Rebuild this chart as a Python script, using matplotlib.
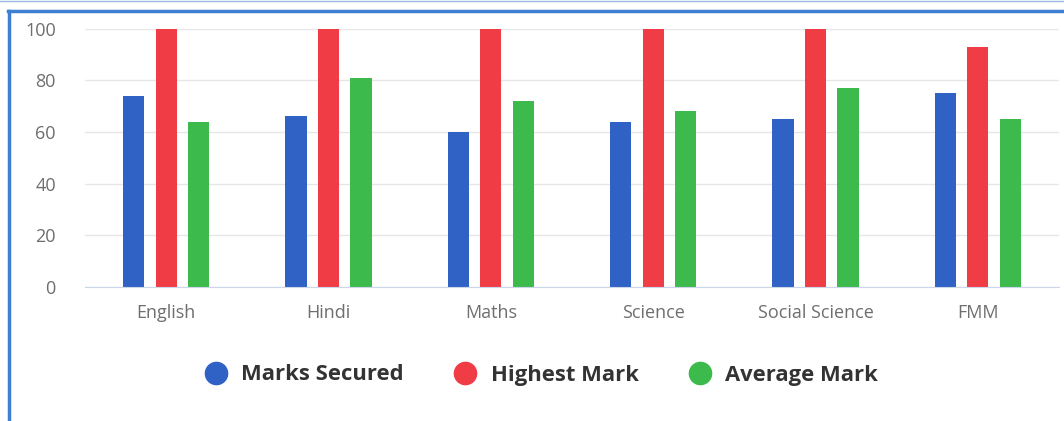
import numpy as np
import matplotlib
matplotlib.use("Agg")
import matplotlib.pyplot as plt
from matplotlib.lines import Line2D

# podaci
subjects = ["English", "Hindi", "Maths", "Science", "Social Science", "FMM"]
marks_secured = [74, 66, 60, 64, 65, 75]
highest_mark = [100, 100, 100, 100, 100, 93]
average_mark = [64, 81, 72, 68, 77, 65]
series_names = ["Marks Secured", "Highest Mark", "Average Mark"]
y_ticks = [0, 20, 40, 60, 80, 100]

colors = ["#2f62c4", "#f03c45", "#3dba4c"]

plt.rcParams['font.family'] = ['Open Sans', 'DejaVu Sans']

fig = plt.figure(figsize=(10.64, 4.21), dpi=100)
ax = fig.add_axes([85 / 1064, 1 - 287 / 421, 974 / 1064, (287 - 28.5) / 421])

x = np.arange(len(subjects))
width = 0.13
offset = 0.2
for i, (vals, name) in enumerate(zip([marks_secured, highest_mark, average_mark], series_names)):
    ax.bar(x + (i - 1) * offset, vals, width, color=colors[i], label=name, zorder=3, clip_on=False)

ax.set_xlim(-0.5, len(subjects) - 0.5)
ax.set_ylim(0, 100)
ax.set_yticks(y_ticks)
ax.set_xticks(x)
ax.set_xticklabels(subjects)
ax.tick_params(axis='y', length=0, pad=21, labelsize=13, labelcolor="#6e6e6e")
ax.tick_params(axis='x', length=0, pad=12, labelsize=13, labelcolor="#6e6e6e")
ax.grid(axis='y', color="#e6e6e6", linewidth=1, zorder=0)
for s in ["top", "right", "left"]:
    ax.spines[s].set_visible(False)
ax.spines["bottom"].set_color("#ccd6eb")
ax.spines["bottom"].set_zorder(4)

# legenda
handles = [Line2D([0], [0], marker='o', linestyle='', markersize=16, markerfacecolor=c, markeredgecolor=c)
           for c in colors]
fig.legend(handles, series_names, loc='center', bbox_to_anchor=(541 / 1064, 1 - 375 / 421),
           ncol=3, frameon=False, handlelength=1.1, handletextpad=0.6, columnspacing=2.25,
           prop={'size': 15.8, 'weight': 'bold'}, labelcolor="#333333")

# okvir
fig.add_artist(Line2D([8 / 1064, 1], [1 - 11 / 421, 1 - 11 / 421], color="#3d7fd0", linewidth=2.5))
fig.add_artist(Line2D([8.5 / 1064, 8.5 / 1064], [0, 1 - 11 / 421], color="#3d7fd0", linewidth=2.5))
fig.add_artist(Line2D([0, 1], [1 - 1 / 421, 1 - 1 / 421], color="#9db8e0", linewidth=1))

fig.savefig("out.png", dpi=100)
